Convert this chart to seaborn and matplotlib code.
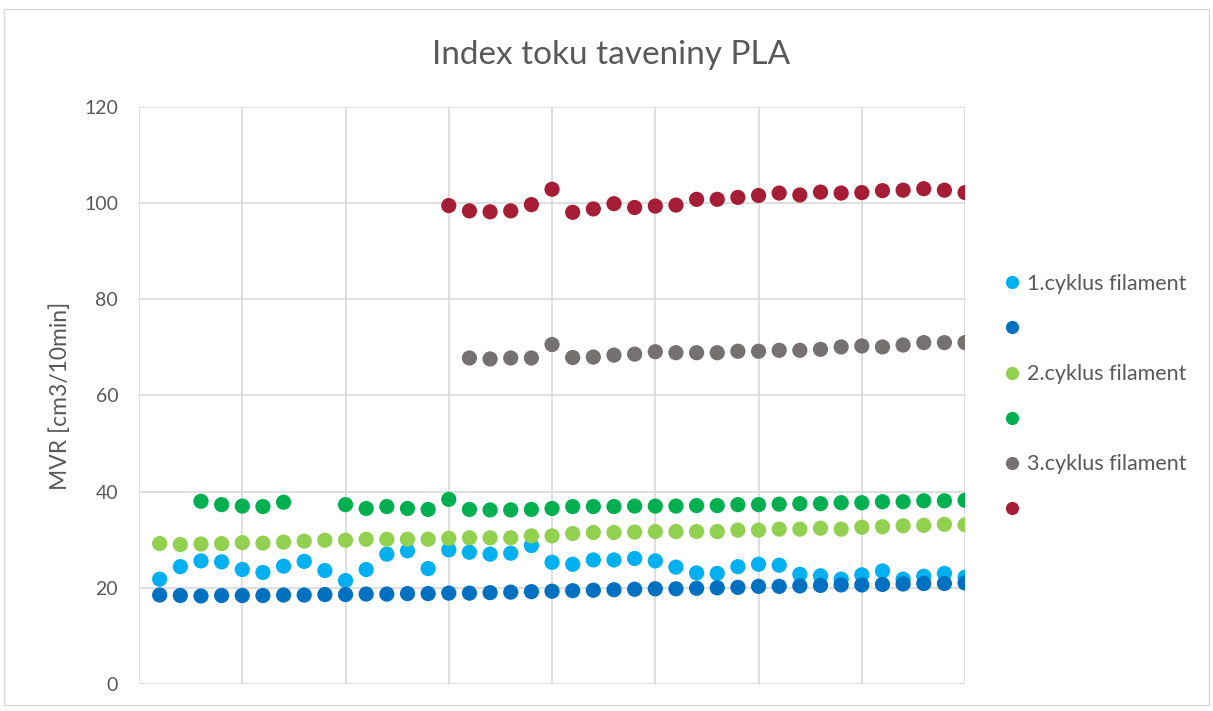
import numpy as np
import pandas as pd
import matplotlib
matplotlib.use("Agg")
import matplotlib.pyplot as plt
from matplotlib.lines import Line2D
from matplotlib.patches import Rectangle
import seaborn as sns

nan = np.nan

# vzorky 1..40
vzorek = list(range(1, 41))

cyklus1 = [21.8, 24.4, 25.6, 25.4, 23.8, 23.2, 24.5, 25.5, 23.6, 21.5,
           23.8, 27.0, 27.7, 24.0, 27.9, 27.4, 27.0, 27.2, 28.8, 25.3,
           24.9, 25.8, 25.8, 26.1, 25.6, 24.3, 23.1, 23.0, 24.4, 24.9,
           24.7, 22.8, 22.5, 21.8, 22.7, 23.5, 21.8, 22.4, 23.0, 22.2]
cyklus1_b = [18.5, 18.4, 18.3, 18.4, 18.4, 18.4, 18.5, 18.5, 18.6, 18.6,
             18.7, 18.7, 18.8, 18.8, 18.9, 18.9, 19.0, 19.1, 19.2, 19.3,
             19.4, 19.5, 19.6, 19.7, 19.8, 19.8, 19.9, 20.0, 20.1, 20.3,
             20.3, 20.4, 20.5, 20.6, 20.6, 20.7, 20.8, 20.9, 20.9, 21.0]
cyklus2 = [29.2, 29.0, 29.1, 29.2, 29.4, 29.3, 29.5, 29.7, 29.9, 29.9,
           30.1, 30.1, 30.1, 30.1, 30.3, 30.4, 30.4, 30.4, 30.8, 30.8,
           31.3, 31.5, 31.5, 31.6, 31.7, 31.7, 31.7, 31.7, 32.0, 32.0,
           32.2, 32.2, 32.4, 32.2, 32.6, 32.7, 32.9, 33.0, 33.2, 33.1]
cyklus2_b = [nan, nan, 38.0, 37.3, 37.0, 36.9, 37.8, nan, nan, 37.3,
             36.5, 36.9, 36.5, 36.3, 38.4, 36.3, 36.2, 36.2, 36.3, 36.5,
             36.9, 36.9, 36.9, 37.0, 37.0, 37.0, 37.1, 37.1, 37.3, 37.3,
             37.4, 37.5, 37.5, 37.7, 37.7, 37.9, 37.9, 38.1, 38.1, 38.2]
cyklus3 = [nan] * 15 + [67.8, 67.6, 67.8, 67.8, 70.6,
                        67.9, 68.0, 68.4, 68.6, 69.1,
                        68.9, 68.9, 68.9, 69.2, 69.2,
                        69.4, 69.4, 69.6, 70.1, 70.3,
                        70.1, 70.5, 71.0, 71.0, 71.0]
cyklus3_b = [nan] * 14 + [99.5, 98.4, 98.2, 98.4, 99.7,
                          102.9, 98.1, 98.8, 99.9, 99.1,
                          99.4, 99.6, 100.8, 100.8, 101.2,
                          101.6, 102.1, 101.7, 102.3, 102.1,
                          102.2, 102.6, 102.7, 103.0, 102.7,
                          102.2]

serie = ["c1", "c1b", "c2", "c2b", "c3", "c3b"]
popisky = ["1.cyklus filament", " ", "2.cyklus filament", " ", "3.cyklus filament", " "]
barvy = ["#00B0F0", "#0070C0", "#92D050", "#00B050", "#767171", "#A51E36"]

rows = []
for name, vals in zip(serie, [cyklus1, cyklus1_b, cyklus2, cyklus2_b, cyklus3, cyklus3_b]):
    for x, y in zip(vzorek, vals):
        if not np.isnan(y):
            rows.append({"vzorek": x, "MVR": y, "serie": name})
df = pd.DataFrame(rows)

sns.set_style("white")
plt.rcParams["font.family"] = ["Lato", "DejaVu Sans"]
text_col = "#595959"
grid_col = "#D9D9D9"

fig = plt.figure(figsize=(12.13, 7.11), dpi=100)
ax = fig.add_axes([0.1146, 0.038, 0.681, 0.8115])

sns.scatterplot(
    data=df, x="vzorek", y="MVR", hue="serie", hue_order=serie,
    palette=dict(zip(serie, barvy)), s=120, linewidth=0, legend=False,
    ax=ax, zorder=3
)

ax.set_xlim(0, 40)
ax.set_ylim(0, 120)
ax.set_xticks(range(0, 41, 5))
ax.set_xticklabels([])
ax.set_yticks(range(0, 121, 20))
ax.grid(True, color=grid_col, linewidth=1.2)
ax.set_axisbelow(True)
for s in ax.spines.values():
    s.set_visible(False)
ax.tick_params(axis="both", length=0, labelsize=14, labelcolor=text_col)
ax.tick_params(axis="y", pad=15)
ax.set_xlabel("")
ax.set_ylabel("MVR [cm3/10min]", fontsize=16.5, color=text_col)
ax.yaxis.set_label_coords(-0.082, 0.5)

fig.text(0.504, 0.922, "Index toku taveniny PLA", ha="center", va="center",
         fontsize=24, color=text_col)

handles = [Line2D([], [], marker="o", linestyle="", markersize=9.5,
                  markerfacecolor=c, markeredgewidth=0) for c in barvy]
fig.legend(handles, popisky, loc="upper left", bbox_to_anchor=(0.8272, 0.615),
           frameon=False, fontsize=15.5, labelcolor=text_col,
           handlelength=0.8, handletextpad=0.3, labelspacing=1.17,
           borderpad=0, borderaxespad=0)

fig.patches.append(Rectangle((0.003, 0.008), 0.994, 0.98, transform=fig.transFigure,
                             fill=False, edgecolor=grid_col, linewidth=1.0))

fig.savefig("out.png", dpi=100)
